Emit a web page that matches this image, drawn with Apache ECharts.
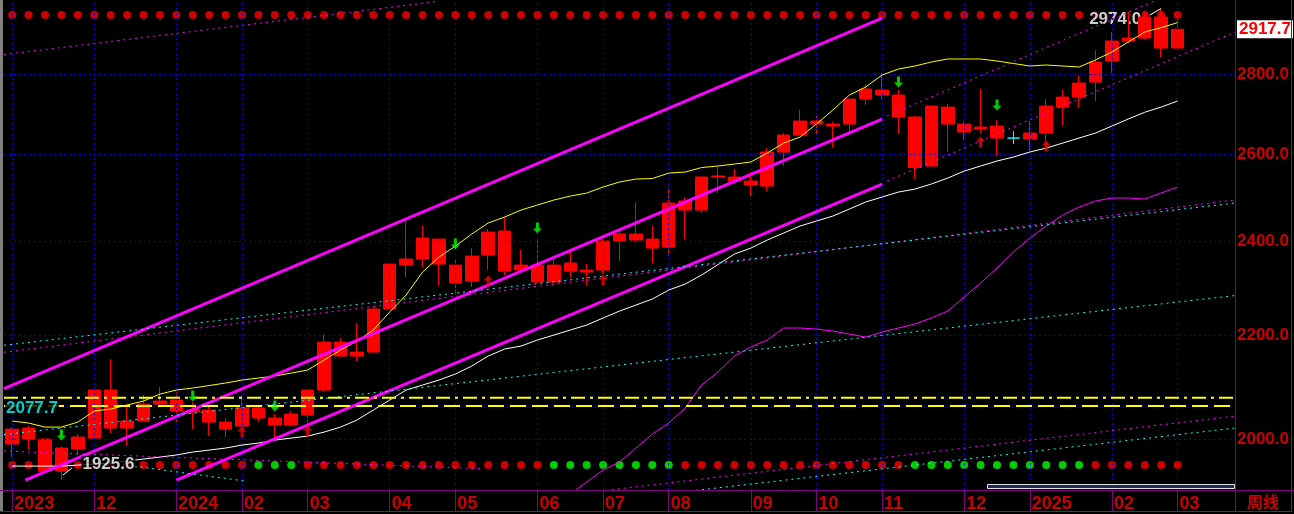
<!DOCTYPE html>
<html><head><meta charset="utf-8">
<script src="https://cdn.jsdelivr.net/npm/echarts/dist/echarts.min.js"></script>
<style>html,body{margin:0;padding:0;background:#000;overflow:hidden}#c{width:1294px;height:514px}</style>
</head><body><div id="c"></div>
<script>
// ---------- DATA ----------
// weekly candles: [open, close, low, high]
const candles = [
 [1990.8,2018.5,1967.1,2022.2],[2020.4,2000.0,1979.8,2024.1],[2000.0,1941.9,1940.0,2000.0],[1941.9,1983.5,1925.6,1987.1],
 [1981.7,2003.7,1970.8,2009.2],[2001.8,2092.4,2000.0,2098.2],[2092.4,2020.4,2011.1,2153.0],[2020.4,2033.5,1987.1,2065.6],
 [2033.5,2065.6,2033.5,2082.8],[2065.6,2071.3,2063.7,2098.2],[2073.2,2052.3,2031.6,2088.5],[2054.2,2050.4,2018.5,2069.4],
 [2054.2,2031.6,2005.5,2063.7],[2031.6,2018.5,2003.7,2039.1],[2024.1,2058.0,2020.4,2082.8],[2058.0,2039.1,2031.6,2061.8],
 [2039.1,2026.0,2000.0,2046.6],[2026.0,2046.6,2024.1,2052.3],[2044.7,2092.4,2016.7,2096.3],[2092.4,2187.0,2088.5,2203.2],
 [2187.0,2159.0,2159.0,2195.1],[2159.0,2167.0,2149.1,2225.7],[2167.0,2254.6,2165.0,2258.7],[2254.6,2350.0,2252.6,2352.2],
 [2347.8,2360.9,2322.0,2447.3],[2360.9,2407.0,2343.6,2433.8],[2404.8,2350.0,2305.0,2404.8],[2347.8,2309.3,2288.1,2358.7],
 [2313.5,2367.4,2300.8,2384.9],[2369.6,2420.4,2337.1,2427.1],[2422.6,2334.9,2326.3,2454.1],[2337.1,2347.8,2337.1,2380.5],
 [2347.8,2311.4,2309.3,2407.0],[2311.4,2347.8,2309.3,2358.7],[2352.2,2334.9,2319.9,2380.5],[2337.1,2332.8,2305.0,2350.0],
 [2337.1,2400.4,2328.5,2402.6],[2400.4,2416.0,2356.5,2429.3],[2416.0,2402.6,2396.0,2488.3],[2404.8,2384.9,2352.2,2433.8],
 [2387.1,2486.0,2367.4,2522.9],[2490.6,2470.0,2404.8,2499.8],[2470.0,2546.3,2463.2,2548.6],[2546.3,2548.6,2508.9,2569.8],
 [2546.3,2536.9,2529.9,2565.2],[2536.9,2527.6,2502.0,2558.0],[2525.2,2605.6,2513.6,2615.2],[2605.6,2646.7,2572.2,2651.6],
 [2646.7,2681.1,2646.7,2708.4],[2681.1,2673.7,2646.7,2693.5],[2673.7,2668.8,2617.6,2678.6],[2673.7,2736.0,2654.1,2736.0],
 [2736.0,2761.4,2720.9,2774.1],[2758.8,2746.1,2736.0,2802.4],[2746.1,2691.0,2649.2,2758.8],[2691.0,2568.8,2541.5,2693.5],
 [2572.2,2718.3,2570.5,2718.3],[2715.8,2673.7,2605.6,2723.4],[2673.7,2654.1,2634.5,2681.1],[2661.4,2666.3,2651.6,2761.4],
 [2668.8,2639.4,2596.0,2683.6],[2639.4,2639.4,2624.8,2656.6],[2636.9,2651.6,2608.0,2681.1],[2651.6,2718.3,2608.0,2736.0],
 [2715.8,2741.0,2671.3,2758.8],[2741.0,2776.6,2715.8,2794.6],[2779.2,2831.0,2731.0,2862.4],[2833.6,2886.3,2802.4,2910.3],
 [2886.3,2894.3,2881.0,2964.5],[2894.3,2950.8,2891.6,2968.0],[2950.8,2867.7,2844.1,2974.0],[2867.7,2917.7,2865.0,2942.7]
];
const cyanDojiIndex = 61;
const emptySlots = 3;
const maYellow = [
 2033.5,2029.7,2022.2,2022.2,2031.6,2052.3,2056.1,2063.7,2071.3,2084.7,
 2092.4,2096.3,2101.1,2106.0,2111.8,2115.7,2119.6,2125.4,2131.3,2151.0,
 2171.0,2189.1,2211.4,2248.4,2283.9,2332.8,2365.2,2389.3,2416.0,2440.6,
 2454.1,2470.0,2481.4,2492.9,2502.0,2508.9,2522.9,2534.6,2541.5,2542.7,
 2555.6,2558.0,2568.6,2572.2,2577.0,2581.7,2603.2,2627.2,2641.8,2673.7,
 2708.4,2746.1,2766.5,2797.3,2812.8,2820.6,2831.0,2838.9,2838.9,2838.9,
 2833.6,2827.1,2820.6,2823.2,2820.6,2818.0,2836.3,2857.3,2883.7,2910.3,
 2922.1,2935.6];
const maWhite = [
 1950.8,1950.8,1950.8,1950.8,1952.6,1954.4,1956.3,1960.2,1963.5,1967.1,
 1970.8,1976.2,1979.8,1983.5,1989.0,1992.6,1998.2,2001.8,2005.5,2012.9,
 2022.2,2035.3,2054.2,2073.2,2092.4,2102.1,2111.8,2123.5,2139.2,2159.0,
 2173.0,2179.0,2191.1,2201.2,2211.4,2221.6,2236.0,2250.4,2262.9,2275.5,
 2294.4,2307.1,2326.3,2348.9,2371.8,2384.9,2402.6,2418.2,2433.8,2445.1,
 2456.3,2472.2,2488.3,2499.8,2511.3,2518.2,2529.9,2543.9,2560.3,2572.2,
 2584.1,2593.6,2605.6,2615.2,2627.2,2639.4,2651.6,2668.8,2686.1,2702.9,
 2715.8,2731.0];
const maMagenta = [
 null,null,null,null,null,null,null,null,null,null,
 null,null,null,null,null,null,null,null,null,null,
 null,null,null,null,null,null,null,null,null,null,
 null,null,null,null,1901.1,1922.3,1943.7,1958.1,1983.5,2009.2,
 2029.7,2058.0,2102.1,2127.4,2159.0,2177.0,2191.1,2215.5,2215.5,2213.4,
 2209.3,2203.2,2197.1,2207.3,2215.5,2223.6,2236.0,2250.4,2279.7,2309.3,
 2341.4,2376.2,2407.0,2433.8,2458.6,2476.8,2490.6,2497.5,2497.5,2495.2,
 2508.9,2522.9];
const gridLevels = [2000, 2200, 2400, 2600, 2800];
const lastClose = 2917.7;
const highLabel = [70, 2974.0];
const lowLabel = [3, 1925.6];
const pressureLevel = 2077.7;
const supportDashLevel = 2062.0;
const monthTickIdx = [0,5,10,14,18,23,27,32,36,40,45,49,53,58,62,67,71];
const monthTickLabels = ['2023','12','2024','02','03','04','05','06','07','08','09','10','11','12','2025','02','03'];
const topDotLevel = 2956.3;
const bottomDotLevel = 1952.6;
const bottomDotPattern = 'RRRRRRRRRRRRRRRGGGRRRRRRRRRRRRRRRGGGGGGGGRRRRRRRRRRRRRRGGGGGGGGGGGRRRRRR';
const greenArrows = [[3,2007.4],[11,2080.9],[16,2061.8],[27,2393.8],[32,2429.3],[54,2779.2],[60,2720.9]];
const redArrows = [[14,2012.9],[18,2014.8],[29,2313.5],[36,2315.6],[59,2629.6],[63,2620.0]];
// trend lines [slot position, price]
const channelUpper = [[-0.5,2095.1],[53,2948.1]];
const channelMiddle = [[0.8,1925.8],[53,2686.1]];
const channelLower = [[10,1925.8],[53,2529.9]];
const recentUpper = [[53.3,2693.5],[71,3022.4]];
const recentLower = [[53.3,2536.9],[74.5,2910.3]];
const topLeftDotted = [[-0.5,2850.6],[26,2993.9]];
const longMagentaDotted = [[-0.5,2166.6],[74.5,2492.9]];
const longCyanDotted = [[-0.5,2180.6],[74.5,2486.0]];
const midCyanDotted = [[-0.5,2008.3],[74.5,2282.8]];
const lowMagentaFalling = [[-0.5,1978.0],[28.5,1946.4]];
const lowMagentaRising = [[35.8,1906.4],[74.5,2042.8]];
const lowCyanRising = [[41.3,1906.4],[74.5,2020.4]];
const shortCyanFalling = [[6,1956.3],[14.2,1924.1]];
const highLeader = [[69.3,2956.0],[70,2974.0]];
const lowLeader = [[3.09,1934.7],[3.64,1947.3]];

// ---------- CHART ----------
const slots = candles.length + emptySlots;
const categories = Array.from({length: slots}, (_, i) => 'W' + i);
const tickMap = {};
monthTickIdx.forEach((k, j) => { tickMap[k] = monthTickLabels[j]; });
const RED = '#ff0000', AXR = '#cc0000', FONT = 'Liberation Sans';

const candleData = candles.map((c, i) => i === cyanDojiIndex
  ? {value: c, itemStyle: {color: '#00ffff', color0: '#00ffff', borderColor: '#00ffff', borderColor0: '#00ffff'}}
  : c);

function tline(data, color, width, type, z) {
  return {type: 'line', xAxisIndex: 1, data: data, symbol: 'none', silent: true, z: z || 5,
    lineStyle: {color: color, width: width, type: type || 'solid'}, clip: true};
}
function maLine(data, color) {
  return {type: 'line', xAxisIndex: 0, data: data, symbol: 'none', silent: true, z: 5,
    lineStyle: {color: color, width: 1}, connectNulls: false, clip: true};
}
const downArrow = 'path://M3,0H6V6H9L4.5,11L0,6H3Z';
const upArrow = 'path://M4.5,0L9,5H6V11H3V5H0Z';

const option = {
  backgroundColor: '#000',
  animation: false,
  grid: {left: 4, right: 59, top: 0, bottom: 24},
  xAxis: [
    {type: 'category', data: categories, boundaryGap: true,
     axisLine: {show: false},
     axisTick: {show: true, alignWithLabel: true, interval: (i) => (i in tickMap), length: 21,
       lineStyle: {color: '#800080', width: 1}},
     axisLabel: {show: true, interval: (i) => (i in tickMap), formatter: (v, i) => tickMap[i] || '',
       color: AXR, fontFamily: FONT, fontWeight: 'bold', fontSize: 18, align: 'left', margin: 5,
       padding: [0, 0, 0, 2], lineHeight: 18},
     splitLine: {show: false}},
    {type: 'value', min: -0.5, max: slots - 0.5, show: false}
  ],
  yAxis: {type: 'log', logBase: 10, min: 1908.3, max: 2997.5, show: false, splitLine: {show: false}},
  series: [
    // grid lines and price labels
    {type: 'line', xAxisIndex: 1, data: [[-0.5, 2000], [slots - 0.5, 2000]], symbol: 'none',
     lineStyle: {opacity: 0}, silent: true, z: 1,
     markLine: {silent: true, symbol: 'none', animation: false,
       lineStyle: {color: '#0000e0', width: 1, type: [2, 3]},
       label: {show: true, position: 'end', distance: 2, color: AXR, fontFamily: FONT, fontWeight: 'bold',
         fontSize: 17, formatter: (p) => Number(p.value).toFixed(1)},
       data: gridLevels.map(v => ({yAxis: v}))
         .concat(monthTickIdx.map(k => ({xAxis: k, label: {show: false}})))
         .concat([{yAxis: lastClose, lineStyle: {color: 'rgba(0,0,0,0)', width: 0},
           label: {show: true, position: 'end', distance: 2, backgroundColor: '#ffffff', color: RED,
             padding: [1, 2, 0, 2], fontSize: 17, fontWeight: 'bold', fontFamily: FONT,
             formatter: () => lastClose.toFixed(1)}}])}},
    // signal dots
    {type: 'scatter', xAxisIndex: 0, data: candles.map((_, i) => [i, topDotLevel]), symbol: 'circle',
     symbolSize: 8, itemStyle: {color: RED}, silent: true, z: 2},
    {type: 'scatter', xAxisIndex: 0, data: candles.map((_, i) => ({value: [i, bottomDotLevel],
       itemStyle: {color: bottomDotPattern[i] === 'G' ? '#00ff00' : RED}})),
     symbol: 'circle', symbolSize: 8, silent: true, z: 2},
    // high label (under candles)
    {type: 'scatter', xAxisIndex: 0, data: [highLabel], symbolSize: 0, silent: true, z: 3,
     label: {show: true, position: 'left', distance: 19, offset: [0, 11], formatter: () => highLabel[1].toFixed(1),
       color: '#ffffff', backgroundColor: '#000', fontFamily: FONT, fontWeight: 'bold', fontSize: 17, lineHeight: 16, padding: [0, 1]}},
    // candles
    {type: 'candlestick', xAxisIndex: 0, data: candleData, barWidth: 13, z: 4, silent: true,
     itemStyle: {color: RED, color0: RED, borderColor: RED, borderColor0: RED, borderWidth: 1}},
    // moving averages
    maLine(maYellow, '#ffff00'),
    maLine(maWhite, '#ffffff'),
    maLine(maMagenta, '#ff00ff'),
    // thick channel lines
    tline(channelUpper, '#ff00ff', 3),
    tline(channelMiddle, '#ff00ff', 3),
    tline(channelLower, '#ff00ff', 3),
    // dotted trend lines
    tline(recentUpper, '#ff00ff', 1, [2, 4]),
    tline(recentLower, '#ff00ff', 1, [2, 4]),
    tline(topLeftDotted, '#ff00ff', 1, [2, 4]),
    tline(longMagentaDotted, '#ff00ff', 1, [2, 4]),
    tline(longCyanDotted, '#00ffff', 1, [2, 4]),
    tline(midCyanDotted, '#00ffff', 1, [2, 4]),
    tline(lowMagentaFalling, '#ff00ff', 1, [2, 4]),
    tline(lowMagentaRising, '#ff00ff', 1, [2, 4]),
    tline(lowCyanRising, '#00ffff', 1, [2, 4]),
    tline(shortCyanFalling, '#00ffff', 1, [2, 4]),
    // horizontal yellow levels
    tline([[-0.5, pressureLevel], [slots - 0.5, pressureLevel]], '#ffff00', 2, [14, 5, 3, 5]),
    tline([[-0.5, supportDashLevel], [slots - 0.5, supportDashLevel]], '#ffff00', 2, [16, 6]),
    // leaders
    tline(highLeader, '#ffffff', 1),
    tline(lowLeader, '#ffffff', 1),
    // arrows
    {type: 'scatter', xAxisIndex: 0, data: greenArrows, symbol: downArrow, symbolSize: [9, 11],
     itemStyle: {color: '#00ff00'}, silent: true, z: 6},
    {type: 'scatter', xAxisIndex: 0, data: redArrows, symbol: upArrow, symbolSize: [9, 11],
     itemStyle: {color: RED}, silent: true, z: 6},
    // low label and level label (above lines)
    {type: 'scatter', xAxisIndex: 0, data: [lowLabel], symbolSize: 0, silent: true, z: 7,
     label: {show: true, position: 'right', distance: 20, offset: [0, -16], formatter: () => lowLabel[1].toFixed(1),
       color: '#ffffff', backgroundColor: '#000', fontFamily: FONT, fontWeight: 'bold', fontSize: 17, lineHeight: 16, padding: [0, 1]}},
    {type: 'scatter', xAxisIndex: 1, data: [[-0.5, pressureLevel]], symbolSize: 0, silent: true, z: 7,
     label: {show: true, position: 'right', distance: 1, offset: [0, 11], formatter: () => pressureLevel.toFixed(1),
       color: '#00ffff', backgroundColor: '#000', fontFamily: FONT, fontWeight: 'bold', fontSize: 17, lineHeight: 16, padding: [0, 1]}}
  ],
  graphic: [
    {type: 'rect', shape: {x: 0, y: 0, width: 3, height: 511}, style: {fill: '#808080'}, silent: true, z: 10},
    {type: 'line', shape: {x1: 1235.5, y1: 0, x2: 1235.5, y2: 511}, style: {stroke: '#800080', lineWidth: 1}, silent: true, z: 10},
    {type: 'line', shape: {x1: 1291.5, y1: 0, x2: 1291.5, y2: 512}, style: {stroke: '#cc0000', lineWidth: 1}, silent: true, z: 10},
    {type: 'line', shape: {x1: 0, y1: 490.5, x2: 1294, y2: 490.5}, style: {stroke: '#800080', lineWidth: 1}, silent: true, z: 10},
    {type: 'line', shape: {x1: 0, y1: 511.5, x2: 1292, y2: 511.5}, style: {stroke: '#cc0000', lineWidth: 1}, silent: true, z: 10},
    {type: 'rect', shape: {x: 987.5, y: 484.5, width: 247, height: 4}, style: {fill: '#1c2a55', stroke: '#e0e0e0', lineWidth: 1}, silent: true, z: 10},
    {type: 'text', x: 1247, y: 494, style: {text: '周线', fill: AXR, font: 'bold 16px "Noto Sans CJK SC"'}, silent: true, z: 10}
  ]
};
const chart = echarts.init(document.getElementById('c'), null, {renderer: 'canvas'});
chart.setOption(option);
</script></body></html>
